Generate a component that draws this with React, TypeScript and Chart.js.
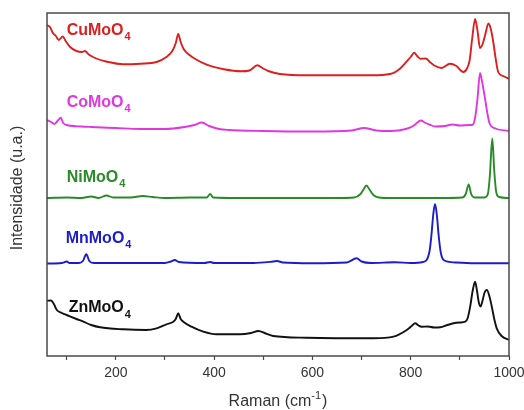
import { useEffect, useRef } from "react";
import { Chart, registerables } from "chart.js";

Chart.register(...registerables);

// ---------- data (Raman shift in cm-1, intensity in arbitrary stacked units) ----------
const seriesNames = ["CuMoO4", "CoMoO4", "NiMoO4", "MnMoO4", "ZnMoO4"];
const seriesColors = ["#dc1f1f", "#e038e0", "#2a8a2a", "#1c1cc8", "#111111"];

const cuX = [60, 66, 72, 78, 84, 92, 98, 107, 120, 131, 137, 145, 160, 180, 215, 250, 283, 303, 315, 322, 327, 332, 338, 350, 360, 385, 420, 455, 472, 488, 500, 510, 534, 590, 720, 758, 778, 792, 800, 807, 813, 820, 831, 840, 848, 863, 880, 893, 907, 915, 920, 925, 931, 936, 941, 946, 952, 958, 963, 968, 973, 978, 988, 1000];
const cuY = [331, 329, 323, 320, 316, 319.5, 315, 309, 305, 304, 305, 301.5, 297.5, 294.5, 291.7, 292.3, 294, 299, 305, 313, 322, 314, 307, 301, 297.5, 291.3, 286.7, 284.7, 285.5, 290.7, 287.5, 285, 282, 280.7, 280.7, 282, 287.3, 294.7, 299, 303.3, 300, 297.3, 297.5, 293.5, 290.5, 288, 292.3, 290, 284, 288, 296, 317, 337, 325, 308, 311.5, 322, 332.5, 327, 314, 297, 284, 280, 277.3];

const coX = [60, 68, 75, 83, 88, 93, 100, 130, 150, 200, 250, 300, 340, 360, 375, 390, 410, 430, 500, 600, 680, 705, 730, 760, 790, 805, 815, 821, 828, 838, 850, 870, 885, 900, 920, 925, 931, 936, 941, 945, 949, 953, 957, 961, 970, 1000];
const coY = [236, 234, 232, 236, 238.3, 233, 231, 229.5, 229, 228, 227, 227, 229, 231, 233.5, 230, 227, 226, 225, 224.5, 225.5, 228, 225.5, 225, 227, 230, 234, 235.5, 233.5, 231.5, 229.5, 230, 231.5, 230.5, 231, 231, 238, 258, 283, 275, 264, 252, 240, 232, 228, 225];

const niX = [60, 100, 130, 150, 165, 181, 195, 230, 255, 275, 300, 350, 385, 392, 398, 450, 550, 650, 685, 698, 704, 710, 716, 724, 735, 760, 860, 905, 912, 918, 923, 930, 950, 957, 961, 966, 970, 974, 980, 1000];
const niY = [158, 158.5, 158, 159.5, 158, 160.5, 158.5, 158.5, 160, 159, 158, 158.5, 158.5, 162, 158.5, 158, 158, 158, 158.5, 162, 166.5, 170.5, 166.5, 161, 158.5, 158, 158, 158.5, 162, 171.5, 162, 158.5, 158.5, 162, 180, 217.5, 185, 164, 159, 158];

const mnX = [60, 90, 100, 106, 125, 133, 140, 146, 155, 200, 300, 312, 320, 328, 380, 392, 400, 480, 520, 528, 540, 600, 670, 690, 700, 720, 768, 800, 825, 838, 842, 846, 849.5, 853, 857, 861, 867, 890, 930, 1000];
const mnY = [92.5, 93, 94.5, 93, 93, 95, 101.7, 95, 93, 93, 93, 94.5, 96, 94, 93, 94, 93, 93, 94.5, 95, 93.5, 92.7, 93.5, 97.7, 94.5, 93, 93.7, 93, 94, 104, 120, 142, 152, 142, 120, 104, 96, 93.5, 92.7, 92.7];

const znX = [60, 68, 74, 80, 90, 100, 120, 134, 150, 168, 215, 262, 283, 303, 317, 322, 327, 332, 338, 354, 378, 405, 453, 475, 490, 505, 520, 588, 724, 765, 792, 802, 809, 816, 822, 835, 848, 860, 875, 887, 900, 911, 916, 921, 926, 931, 935, 938, 942, 946, 950, 955, 960, 965, 970, 975, 985, 1000];
const znY = [55.3, 55.5, 52, 46, 43, 41, 37, 34.3, 31, 28.7, 26.7, 26, 27.7, 31.7, 34.3, 37, 42.7, 37, 34, 29.3, 24.3, 21.7, 21.7, 23, 25, 22.5, 20, 18.3, 17.7, 19.3, 26, 30, 32.7, 30.5, 29.3, 29.5, 28.5, 28.7, 31, 32.7, 33.5, 34.3, 38, 49.3, 65, 74.3, 65, 55, 49.5, 55, 63, 66, 60, 49.3, 37, 27.7, 20, 16];

const seriesX = [cuX, coX, niX, mnX, znX];
const seriesY = [cuY, coY, niY, mnY, znY];

// label anchors (data units)
const labelAtX = [100, 100, 100, 98, 104];
const labelAtY = [321.5, 249.5, 174.5, 113.5, 43.7];

const xMin = 60;
const xMax = 1000;
const yMin = 0;
const yMax = 343;
const xTickValues = [100, 200, 300, 400, 500, 600, 700, 800, 900, 1000];

const xTitle = "Raman (cm";
const xTitleSup = "-1";
const yTitle = "Intensidade (u.a.)";

const FONT = "'Liberation Sans', Arial, sans-serif";

const decorPlugin = {
  id: "decor",
  afterDatasetsDraw(chart: any) {
    const ctx = chart.ctx;
    const xs = chart.scales.x;
    const ys = chart.scales.y;
    ctx.save();
    seriesNames.forEach((name, i) => {
      const m = name.match(/^(.*?)(\d+)$/);
      const base = m ? m[1] : name;
      const sub = m ? m[2] : "";
      const px = xs.getPixelForValue(labelAtX[i]);
      const py = ys.getPixelForValue(labelAtY[i]);
      ctx.fillStyle = seriesColors[i];
      ctx.textBaseline = "alphabetic";
      ctx.textAlign = "left";
      ctx.font = `bold 16px ${FONT}`;
      ctx.fillText(base, px, py);
      const w = ctx.measureText(base).width;
      ctx.font = `bold 11px ${FONT}`;
      ctx.fillText(sub, px + w + 1, py + 5.5);
    });
    ctx.restore();
  },
  afterDraw(chart: any) {
    const ctx = chart.ctx;
    const a = chart.chartArea;
    ctx.save();
    ctx.strokeStyle = "#4a4a4a";
    ctx.lineWidth = 1.5;
    ctx.strokeRect(a.left, a.top, a.right - a.left, a.bottom - a.top);

    // x title with superscript
    ctx.fillStyle = "#333333";
    ctx.textBaseline = "alphabetic";
    ctx.textAlign = "left";
    ctx.font = `16px ${FONT}`;
    const w1 = ctx.measureText(xTitle).width;
    ctx.font = `11px ${FONT}`;
    const w2 = ctx.measureText(xTitleSup).width;
    ctx.font = `16px ${FONT}`;
    const w3 = ctx.measureText(")").width;
    const total = w1 + w2 + w3 + 1;
    const cx = (a.left + a.right) / 2;
    let x0 = cx - total / 2;
    const by = 406;
    ctx.fillText(xTitle, x0, by);
    x0 += w1;
    ctx.font = `11px ${FONT}`;
    ctx.fillText(xTitleSup, x0, by - 7);
    x0 += w2 + 1;
    ctx.font = `16px ${FONT}`;
    ctx.fillText(")", x0, by);

    // y title
    ctx.translate(18, 188);
    ctx.rotate(-Math.PI / 2);
    ctx.textAlign = "center";
    ctx.textBaseline = "middle";
    ctx.font = `16px ${FONT}`;
    ctx.fillText(yTitle, 0, 0);
    ctx.restore();
  },
};

export default function App() {
  const ref = useRef<HTMLCanvasElement | null>(null);
  useEffect(() => {
    if (!ref.current) return;
    const chart = new Chart(ref.current, {
      type: "line",
      data: {
        datasets: seriesNames.map((name, i) => ({
          label: name,
          data: seriesX[i].map((x, j) => ({ x, y: seriesY[i][j] })),
          borderColor: seriesColors[i],
          backgroundColor: seriesColors[i],
          borderWidth: 1.9,
          pointRadius: 0,
          fill: false,
          cubicInterpolationMode: "monotone" as const,
        })),
      },
      options: {
        animation: false,
        responsive: true,
        maintainAspectRatio: false,
        layout: { padding: { top: 13, right: 15, left: 0, bottom: 0 } },
        plugins: { legend: { display: false }, tooltip: { enabled: false } },
        scales: {
          x: {
            type: "linear",
            min: xMin,
            max: xMax,
            afterBuildTicks: (s: any) => {
              s.ticks = xTickValues.map((v) => ({ value: v }));
            },
            afterFit: (s: any) => {
              s.height = 54;
              s.paddingLeft = 0;
              s.paddingRight = 0;
            },
            border: { display: false },
            grid: {
              drawOnChartArea: false,
              drawTicks: true,
              tickLength: 4,
              tickColor: "#4a4a4a",
              tickWidth: 1.2,
            },
            ticks: {
              autoSkip: false,
              maxRotation: 0,
              padding: 5,
              color: "#333333",
              font: { family: FONT, size: 14 },
              callback: (v: any) => (Number(v) % 200 === 0 ? String(v) : ""),
            },
          },
          y: {
            type: "linear",
            min: yMin,
            max: yMax,
            afterFit: (s: any) => {
              s.width = 47;
            },
            border: { display: false },
            grid: { display: false },
            ticks: { display: false },
          },
        },
      },
      plugins: [decorPlugin],
    });
    return () => chart.destroy();
  }, []);
  return (
    <div style={{ position: "fixed", left: 0, top: 0, width: 524, height: 410, background: "#fff" }}>
      <canvas ref={ref} />
    </div>
  );
}
